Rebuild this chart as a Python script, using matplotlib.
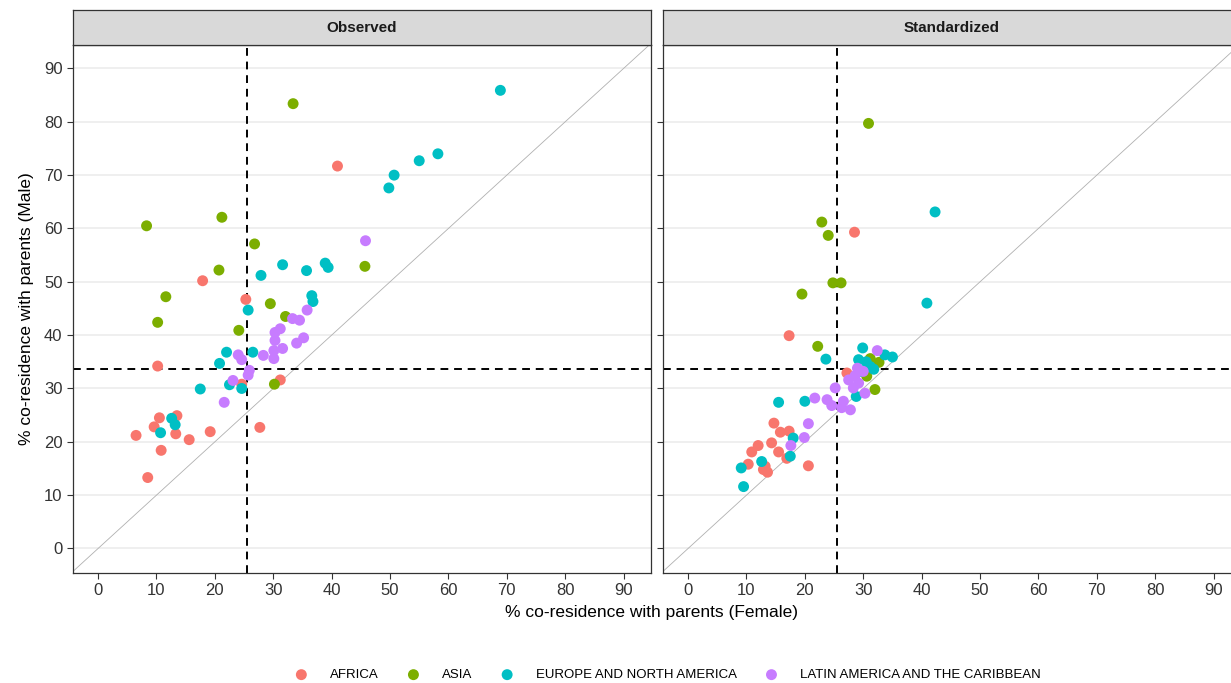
import matplotlib
matplotlib.use("Agg")
import matplotlib.pyplot as plt

plt.rcParams["font.family"] = ["Liberation Sans", "DejaVu Sans"]

regions = ["AFRICA", "ASIA", "EUROPE AND NORTH AMERICA", "LATIN AMERICA AND THE CARIBBEAN"]
colors = ["#F8766D", "#7CAE00", "#00BFC4", "#C77CFF"]
ticks = [0, 10, 20, 30, 40, 50, 60, 70, 80, 90]

# reference lines (mean female / mean male, observed)
vline_x = 25.5
hline_y = 33.6

# Observed panel: (female %, male %)
obs_africa_x = [41.0, 17.9, 25.3, 10.2, 24.6, 31.2, 27.7, 10.5, 13.5, 9.6, 6.5, 13.3, 15.6, 19.2, 10.8, 8.5]
obs_africa_y = [71.7, 50.2, 46.7, 34.2, 30.8, 31.6, 22.7, 24.5, 24.9, 22.8, 21.2, 21.5, 20.4, 21.9, 18.4, 13.3]
obs_asia_x = [33.4, 8.3, 21.2, 26.8, 20.7, 11.6, 10.2, 29.5, 32.1, 24.1, 30.2, 45.7]
obs_asia_y = [83.4, 60.5, 62.1, 57.1, 52.2, 47.2, 42.4, 45.9, 43.5, 40.9, 30.8, 52.9]
obs_europe_x = [68.9, 58.2, 55.0, 50.7, 49.8, 27.9, 31.6, 35.7, 38.9, 39.4, 36.6, 36.8,
                25.7, 22.0, 26.5, 20.8, 22.5, 24.6, 17.5, 12.6, 13.2, 10.7]
obs_europe_y = [85.9, 74.0, 72.7, 70.0, 67.6, 51.2, 53.2, 52.1, 53.5, 52.7, 47.4, 46.3,
                44.7, 36.8, 36.8, 34.7, 30.7, 30.0, 29.9, 24.4, 23.2, 21.7]
obs_latin_x = [45.8, 35.8, 33.3, 34.5, 31.2, 30.3, 30.3, 35.2, 34.0, 31.6, 30.1, 28.3,
               30.1, 24.0, 24.6, 25.9, 25.7, 23.1, 21.6]
obs_latin_y = [57.7, 44.7, 43.1, 42.8, 41.2, 40.5, 39.0, 39.5, 38.5, 37.5, 37.1, 36.2,
               35.6, 36.3, 35.4, 33.4, 32.5, 31.5, 27.4]

# Standardized panel
std_africa_x = [28.5, 17.3, 27.2, 14.7, 15.8, 17.3, 12.0, 10.9, 14.3, 15.5, 16.9, 10.3, 13.2, 13.6, 20.6, 12.9]
std_africa_y = [59.3, 39.9, 32.9, 23.5, 21.8, 22.0, 19.3, 18.1, 19.8, 18.1, 16.9, 15.8, 15.4, 14.3, 15.5, 14.8]
std_asia_x = [30.9, 22.9, 24.0, 24.8, 26.2, 19.5, 22.2, 31.2, 32.7, 30.6, 32.0]
std_asia_y = [79.7, 61.2, 58.7, 49.8, 49.8, 47.7, 37.9, 35.6, 34.9, 32.3, 29.8]
std_europe_x = [42.3, 40.9, 23.6, 29.9, 29.2, 33.7, 35.0, 29.5, 31.2, 28.8, 20.0, 15.5,
                18.0, 17.5, 12.6, 9.1, 9.5, 30.5, 31.8]
std_europe_y = [63.1, 46.0, 35.5, 37.6, 35.4, 36.3, 35.9, 33.2, 34.1, 28.5, 27.6, 27.4,
                20.7, 17.3, 16.3, 15.1, 11.6, 35.0, 33.6]
std_latin_x = [32.4, 29.0, 27.5, 29.2, 28.3, 30.3, 25.2, 21.7, 23.8, 24.6, 26.6, 26.3,
               27.8, 20.6, 19.9, 17.6, 28.6, 30.0]
std_latin_y = [37.1, 33.8, 31.6, 31.0, 30.1, 29.1, 30.1, 28.2, 27.9, 26.8, 27.6, 26.4,
               26.0, 23.4, 20.8, 19.3, 32.4, 33.2]

panels = [
    ("Observed", [(obs_africa_x, obs_africa_y), (obs_asia_x, obs_asia_y),
                  (obs_europe_x, obs_europe_y), (obs_latin_x, obs_latin_y)]),
    ("Standardized", [(std_africa_x, std_africa_y), (std_asia_x, std_asia_y),
                      (std_europe_x, std_europe_y), (std_latin_x, std_latin_y)]),
]

W, H = 1231, 683
fig = plt.figure(figsize=(W / 100, H / 100), dpi=100)

lefts = [73, 663]
pw = 578
ptop, pbot = 45, 573
strip_top = 10
border = "#333333"

for i, (title, groups) in enumerate(panels):
    ax = fig.add_axes([lefts[i] / W, (H - pbot) / H, pw / W, (pbot - ptop) / H])
    ax.set_xlim(-4.3, 94.7)
    ax.set_ylim(-4.6, 94.4)
    ax.set_xticks(ticks)
    ax.set_yticks(ticks)
    for t in ticks:
        ax.axhline(t, color="#EBEBEB", lw=1.1, zorder=0)
    ax.plot([-5, 95], [-5, 95], color="#B0B0B0", lw=0.6, zorder=1)
    ax.axvline(vline_x, color="black", lw=1.4, ls=(0, (4, 3)), zorder=2)
    ax.axhline(hline_y, color="black", lw=1.4, ls=(0, (4, 3)), zorder=2)
    for (gx, gy), c, lab in zip(groups, colors, regions):
        ax.scatter(gx, gy, s=62, color=c, edgecolors="none", zorder=3,
                   label=lab if i == 0 else None)
    for sp in ax.spines.values():
        sp.set_color(border)
        sp.set_linewidth(0.9)
    ax.tick_params(axis="both", color=border, length=4, width=0.8,
                   labelsize=12, labelcolor="#333333")
    if i == 1:
        ax.tick_params(axis="y", labelleft=False)
    else:
        ax.set_ylabel("% co-residence with parents (Male)", fontsize=12.5, labelpad=7)

    sax = fig.add_axes([lefts[i] / W, (H - ptop) / H, pw / W, (ptop - strip_top) / H])
    sax.set_facecolor("#D9D9D9")
    sax.set_xticks([])
    sax.set_yticks([])
    for sp in sax.spines.values():
        sp.set_color(border)
        sp.set_linewidth(0.9)
    sax.text(0.5, 0.5, title, ha="center", va="center", fontsize=11,
             fontweight="bold", color="#1A1A1A", transform=sax.transAxes)

fig.text(652 / W, 1 - 612 / H, "% co-residence with parents (Female)",
         ha="center", va="center", fontsize=12.5)

fig.legend(loc="center", bbox_to_anchor=(668 / W, 1 - 675 / H), ncol=4,
           frameon=False, fontsize=9.5, handlelength=1.0, handletextpad=1.7,
           columnspacing=2.1, markerscale=1.0)

fig.savefig("out.png", dpi=100)
